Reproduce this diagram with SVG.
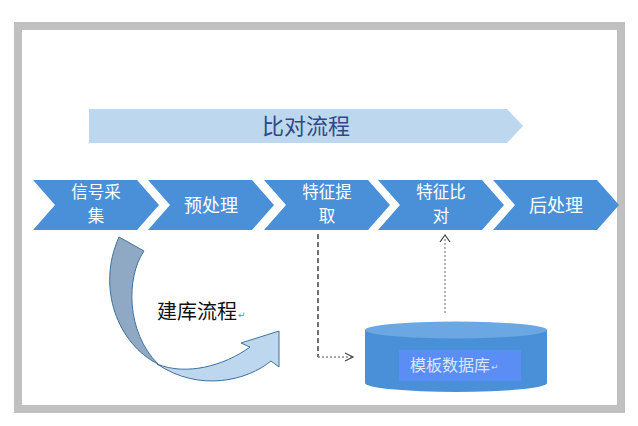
<svg xmlns="http://www.w3.org/2000/svg" width="638" height="426" viewBox="0 0 638 426">
<style>
.cjk{font-family:"Noto Sans CJK SC","Noto Sans CJK JP",sans-serif;}
.chev{fill:#4a90d9;}
.ct{font-size:18px;fill:#ffffff;text-anchor:middle;}
.ct2{font-size:16.5px;fill:#ffffff;text-anchor:middle;}
.mark{font-family:"DejaVu Sans",sans-serif;font-size:9px;fill:#5b8fd0;}
.dash{fill:none;stroke:#222;stroke-width:1.3;stroke-dasharray:5 3;}
.dot{fill:none;stroke:#888;stroke-width:1.3;stroke-dasharray:2 2;}
.head{fill:none;stroke:#444;stroke-width:1.2;}
</style>
<rect x="0" y="0" width="638" height="426" fill="#ffffff"/>
<rect x="18" y="26" width="603" height="383" fill="#ffffff" stroke="#c0c0c0" stroke-width="8"/>

<g id="banner">
<polygon points="89,109 507,109 523,126 507,143 89,143" fill="#bdd7ee"/>
<text class="cjk" x="306" y="134" font-size="22" fill="#2e4a86" text-anchor="middle">比对流程</text>
</g>

<g id="step1">
<polygon class="chev" points="33,180 137,180 159,205 137,230 33,230 55,205"/>
<text class="cjk ct2" x="96" y="198">信号采<tspan x="96" dy="24">集</tspan></text>
</g>
<g id="step2">
<polygon class="chev" points="148,180 252,180 274,205 252,230 148,230 170,205"/>
<text class="cjk ct" x="211" y="212">预处理</text>
</g>
<g id="step3">
<polygon class="chev" points="264,180 368,180 390,205 368,230 264,230 286,205"/>
<text class="cjk ct2" x="327" y="198">特征提<tspan x="327" dy="24">取</tspan></text>
</g>
<g id="step4">
<polygon class="chev" points="378,180 482,180 504,205 482,230 378,230 400,205"/>
<text class="cjk ct2" x="441" y="198">特征比<tspan x="441" dy="24">对</tspan></text>
</g>
<g id="step5">
<polygon class="chev" points="493,180 597,180 619,205 597,230 493,230 515,205"/>
<text class="cjk ct" x="556" y="212">后处理</text>
</g>

<g id="build-arrow">
<path d="M119,237 L144,251 C126,277 126,332 158,364 C118,344 96,288 119,237 Z" fill="#8fa9c4" stroke="#41719c" stroke-width="1"/>
<path d="M157,364 C186,376 224,366 250,347 L241,343 L279,331 L279,367 L271,361 C248,380 200,393 157,364 Z" fill="#bdd7ee" stroke="#41719c" stroke-width="1"/>
<text class="cjk" x="157" y="319" font-size="20" fill="#111">建库流程</text>
<text class="mark" x="238" y="318">↵</text>
</g>

<g id="database">
<rect x="365" y="330" width="182" height="53" fill="#4a90d9"/>
<ellipse cx="456" cy="383" rx="91" ry="9" fill="#4a90d9"/>
<ellipse cx="456" cy="330" rx="91" ry="8.5" fill="#6aa7e3"/>
<rect x="399" y="350" width="122" height="31" fill="#5b8ef5"/>
<text class="cjk" x="410" y="371" font-size="16" fill="#dbe6f6">模板数据库</text>
<text class="mark" x="491" y="370" style="fill:#c8d8f0">↵</text>
</g>

<g id="connectors">
<path class="dash" d="M318,234 V357"/>
<path class="dot" d="M318,357 H352"/>
<path class="head" d="M345,353 L353,357 L345,361"/>
<path class="dot" d="M445,313 V238"/>
<path class="head" d="M440,242 L445,235 L450,242"/>
</g>
</svg>
